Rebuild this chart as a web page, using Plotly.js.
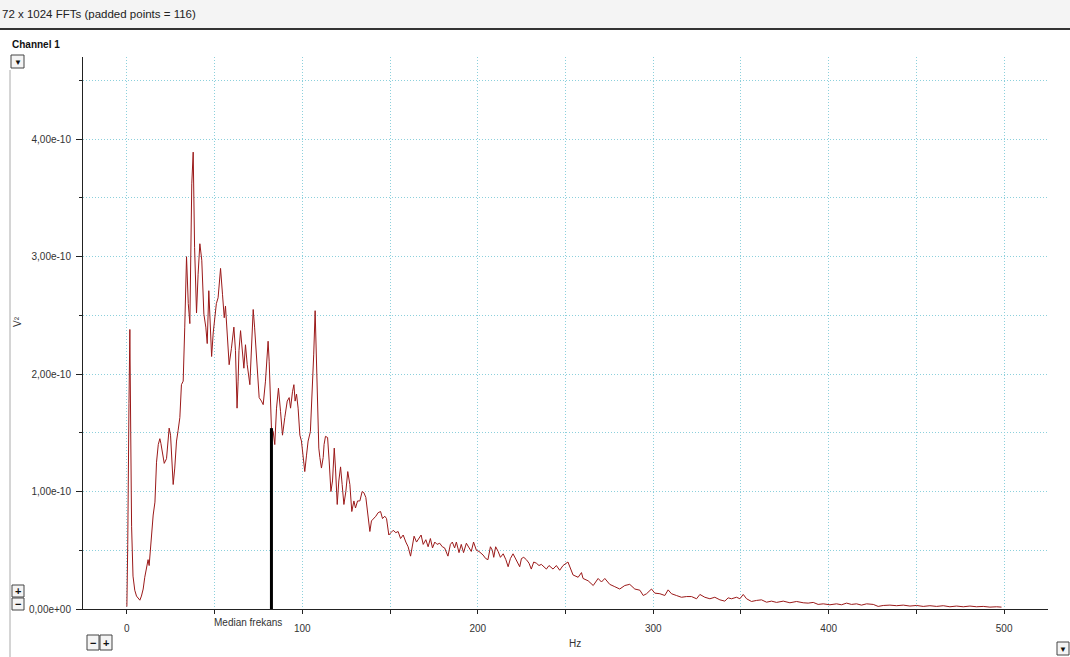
<!DOCTYPE html>
<html>
<head>
<meta charset="utf-8">
<script src="https://cdn.plot.ly/plotly-3.0.1.min.js"></script>
<style>
html,body{margin:0;padding:0;background:#fff;}
#chart{width:1070px;height:657px;}
</style>
</head>
<body>
<div id="chart"></div>
<script>
// ---- data (frequency in Hz, power in units of 1e-10 V²) ----
const freqHz = [
0,0.5,1.2,1.7,2.2,2.7,3.5,4.5,5.5,6.5,7.4,8.3,9.3,10.2,11.2,12.1,12.7,13.3,14,15,16,16.9,17.9,18.8,19.4,20.1,21.3,22.6,24.1,24.9,25.8,26.4,27.3,28.3,29.2,30.2,31.1,32.1,33,34,35,35.9,37,37.8,38.6,39.7,40.6,41.6,42.7,43.9,45,45.8,46.7,47.5,48.3,49.2,50.1,51,52,53.4,54.5,55.5,56.2,56.8,57.7,58.3,59.6,61,61.9,62.8,63.4,63.9,64.8,65.9,66.7,67.6,68.6,70.1,71.2,72,72.8,73.9,75.4,76.7,77.7,79,80.5,81.1,81.8,82.4,83.4,84.3,85.3,86.4,87.6,88.7,90,91.4,92.5,93.3,94.4,95.2,95.9,96.7,97.6,98.6,99.5,100.5,101.4,102.4,103.3,104.6,105.8,106.5,107.3,108,108.6,109.4,110,110.9,111.9,112.4,113.2,114.4,115.3,116.3,117.2,118.2,118.9,119.9,120.8,121.8,
122.7,123.7,124.8,125.9,127.1,128.2,129.4,130.3,131.5,132.8,134.1,135.1,136.2,137.5,138.5,139.4,140.7,141.9,143.2,144.6,145.7,147,148,149.3,150.5,151.8,153.3,154.6,156,157.5,159,160.3,161.7,162.8,163.7,165.1,166.4,167.7,168.9,170.4,171.7,173,174.2,175.5,176.8,178.3,179.8,181.1,183,184.4,185.5,186.8,187.8,189.3,190.6,191.9,193.5,195,196.3,197.6,199.2,200.7,
203,204.5,205.8,207.2,208.3,209.1,210.2,211.6,212.9,214.5,216,217.3,218.6,220.1,221.5,223,223.9,224.9,226.2,227.7,229.2,230.5,231.9,233.4,234.9,236.2,237.6,239.1,240.6,
242.9,244.8,246.7,248.6,251.4,254.3,257.2,259.1,260,262.9,265.8,268.6,270.5,272.4,275.2,278.1,280.9,283.8,286.6,289.5,292.4,294.3,296.2,299,300.9,303.8,306.6,308.5,310.4,313.2,316.1,319,321.8,324.7,326.6,329.4,332.3,335.1,338,340.8,342.7,344.6,347.5,349.4,351.3,353.2,356,358.9,361.7,364.6,367.4,370.3,374.1,377.9,381.7,385.5,388.3,391.2,394,396.9,400.7,404.5,407.3,410.2,413,415.9,418.7,421.6,425.4,428.2,431.1,434.9,438.7,442.5,446.3,450.1,453.9,457.7,461.5,465.3,469.1,472.9,476.7,480.5,484.3,488.1,491.9,495.7,498.5
];
const powerE10 = [
0.02,0.55,1.75,2.38,1.5,0.7,0.28,0.16,0.11,0.09,0.075,0.11,0.17,0.27,0.37,0.42,0.37,0.5,0.66,0.8,0.91,1.25,1.4,1.45,1.41,1.34,1.24,1.28,1.54,1.48,1.14,1.06,1.2,1.43,1.52,1.63,1.91,1.94,2.4,3.0,2.6,2.43,3.62,3.89,3.08,2.52,2.85,3.11,2.97,2.51,2.4,2.26,2.71,2.4,2.15,2.35,2.51,2.6,2.65,2.9,2.68,2.48,2.58,2.43,2.2,2.08,2.22,2.4,2.2,1.71,1.94,2.2,2.37,2.2,2.05,2.25,2.08,1.91,2.28,2.55,2.4,2.11,1.8,1.77,1.74,1.94,2.28,2.11,1.8,1.54,1.51,1.4,1.71,1.88,1.68,1.48,1.63,1.77,1.8,1.71,1.85,1.91,1.77,1.83,1.71,1.48,1.43,1.31,1.17,1.31,1.43,1.51,1.85,2.17,2.54,2.11,1.71,1.37,1.29,1.2,1.29,1.4,1.47,1.46,1.26,1.0,1.09,1.37,1.2,0.89,1.09,1.21,
1.06,0.89,1.0,1.17,1.06,0.83,0.92,0.86,0.92,0.92,1.0,0.99,0.95,0.77,0.66,0.75,0.77,0.79,0.82,0.83,0.77,0.79,0.77,0.63,0.65,0.67,0.65,0.66,0.6,0.63,0.57,0.53,0.45,0.55,0.62,0.57,0.6,0.63,0.55,0.59,0.53,0.6,0.52,0.57,0.55,0.56,0.53,0.52,0.45,0.55,0.57,0.52,0.57,0.48,0.55,0.48,0.56,0.52,0.49,0.57,0.5,0.49,
0.46,0.43,0.42,0.53,0.5,0.44,0.53,0.49,0.44,0.47,0.42,0.36,0.43,0.47,0.43,0.39,0.36,0.43,0.44,0.42,0.39,0.34,0.4,0.39,0.37,0.38,0.36,0.34,0.37,
0.34,0.37,0.33,0.37,0.4,0.29,0.27,0.31,0.26,0.24,0.2,0.26,0.23,0.26,0.21,0.19,0.17,0.2,0.21,0.17,0.16,0.115,0.13,0.17,0.135,0.13,0.115,0.163,0.13,0.115,0.1,0.106,0.106,0.087,0.124,0.1,0.087,0.1,0.078,0.067,0.095,0.087,0.1,0.087,0.124,0.087,0.064,0.073,0.078,0.058,0.067,0.056,0.067,0.053,0.064,0.053,0.05,0.056,0.039,0.044,0.036,0.044,0.036,0.05,0.039,0.044,0.033,0.044,0.039,0.022,0.03,0.033,0.028,0.033,0.025,0.03,0.022,0.028,0.022,0.028,0.019,0.025,0.019,0.025,0.019,0.022,0.016,0.019,0.016
];
const medianHz = 82.4;
const medianPowerE10 = 1.54;
const medianLabel = "Median frekans";
const yTickVals = [0, 1, 2, 3, 4];
const yTickText = ["0,00e+00", "1,00e-10", "2,00e-10", "3,00e-10", "4,00e-10"];
const yMinorVals = [0.5, 1.5, 2.5, 3.5, 4.5];
const xTickVals = [0, 100, 200, 300, 400, 500];
const xMinorVals = [50, 150, 250, 350, 450];
const headerText = "72 x 1024 FFTs (padded points = 116)";
const channelText = "Channel 1";
const xTitle = "Hz";
const yTitle = "V²";

// ---- layout geometry helpers (pixel -> paper) ----
const W = 1070, H = 657, L = 83, R = 22, T = 57, B = 48;
const PW = W - L - R, PH = H - T - B;
const px = x => (x - L) / PW;
const py = y => (H - B - y) / PH;

const gridCol = "rgb(140,208,220)";
const gridDash = "1px,2px";
const axisCol = "#222";
const txtCol = "#333";
const fontFam = "Liberation Sans, Arial, sans-serif";

function box(x0, y0, x1, y1) {
  return {type: "rect", xref: "paper", yref: "paper", x0: px(x0), x1: px(x1), y0: py(y1), y1: py(y0),
    line: {color: "#444", width: 1}, fillcolor: "#f4f4f4", layer: "above"};
}
function label(x, y, text, size, opts) {
  return Object.assign({xref: "paper", yref: "paper", x: px(x), y: py(y), text: text, showarrow: false,
    font: {family: fontFam, size: size, color: txtCol},
    xanchor: "center", yanchor: "middle"}, opts || {});
}

const traces = [
  {x: freqHz, y: powerE10, type: "scatter", mode: "lines",
   line: {color: "rgb(155,25,25)", width: 1}, hoverinfo: "skip"},
  {x: [medianHz, medianHz], y: [0, medianPowerE10], type: "scatter", mode: "lines",
   line: {color: "#000", width: 3}, hoverinfo: "skip"}
];

const layout = {
  width: W, height: H,
  margin: {l: L, r: R, t: T, b: B, pad: 0},
  paper_bgcolor: "#fff", plot_bgcolor: "#fff",
  showlegend: false,
  font: {family: fontFam, size: 10, color: txtCol},
  xaxis: {
    range: [-25, 525], tickmode: "array", tickvals: xTickVals,
    ticks: "outside", ticklen: 4, tickcolor: axisCol, ticklabelstandoff: 6,
    showline: true, linecolor: axisCol, linewidth: 1, zeroline: false,
    showgrid: true, gridcolor: gridCol, griddash: gridDash, gridwidth: 1,
    minor: {tickvals: xMinorVals, ticks: "outside", ticklen: 4, tickcolor: axisCol,
            showgrid: true, gridcolor: gridCol, griddash: gridDash, gridwidth: 1},
    tickfont: {size: 10, color: txtCol}, fixedrange: true
  },
  yaxis: {
    range: [0, 4.70], tickmode: "array", tickvals: yTickVals, ticktext: yTickText,
    ticks: "outside", ticklen: 6, tickcolor: axisCol, ticklabelstandoff: 3,
    showline: true, linecolor: axisCol, linewidth: 1, zeroline: false,
    showgrid: true, gridcolor: gridCol, griddash: gridDash, gridwidth: 1,
    minor: {tickvals: yMinorVals, ticks: "outside", ticklen: 3, tickcolor: axisCol,
            showgrid: true, gridcolor: gridCol, griddash: gridDash, gridwidth: 1},
    tickfont: {size: 10, color: txtCol}, fixedrange: true
  },
  shapes: [
    {type: "rect", xref: "paper", yref: "paper", x0: px(0), x1: px(1070), y0: py(28), y1: py(0),
     fillcolor: "#f4f4f4", line: {width: 0}, layer: "below"},
    {type: "line", xref: "paper", yref: "paper", x0: px(0), x1: px(1070), y0: py(29), y1: py(29),
     line: {color: "#333", width: 2}},
    {type: "line", xref: "paper", yref: "paper", x0: px(10), x1: px(10), y0: py(70), y1: py(657),
     line: {color: "#aaa", width: 1}},
    box(11, 55, 24, 68),
    box(12, 585, 24, 597),
    box(12, 598, 24, 610),
    box(87, 635, 99, 650),
    box(100, 635, 112, 650),
    box(1057, 642, 1069, 655)
  ],
  annotations: [
    label(2, 14, headerText, 12, {xanchor: "left", xshift: -2, font: {family: fontFam, size: 11.5, color: "#222"}}),
    label(12, 45, "<b>" + channelText + "</b>", 10, {xanchor: "left", xshift: -2, font: {family: fontFam, size: 10, color: "#111"}}),
    label(17.5, 62, "▼", 8, {font: {size: 8, color: "#111"}}),
    label(1063, 649, "▼", 8, {font: {size: 8, color: "#111"}}),
    label(18, 591, "<b>+</b>", 11, {font: {size: 11, color: "#111"}}),
    label(18, 604, "<b>−</b>", 11, {font: {size: 11, color: "#111"}}),
    label(93, 642.5, "<b>−</b>", 11, {font: {size: 11, color: "#111"}}),
    label(106, 642.5, "<b>+</b>", 11, {font: {size: 11, color: "#111"}}),
    label(575, 643, xTitle, 10),
    label(17, 322, yTitle, 10, {textangle: -90}),
    {xref: "x", yref: "paper", x: medianHz, y: py(622), text: medianLabel, showarrow: false,
     xanchor: "right", yanchor: "middle", xshift: 13,
     font: {family: fontFam, size: 10, color: txtCol}}
  ]
};

Plotly.newPlot("chart", traces, layout, {displayModeBar: false, staticPlot: true});
</script>
</body>
</html>
